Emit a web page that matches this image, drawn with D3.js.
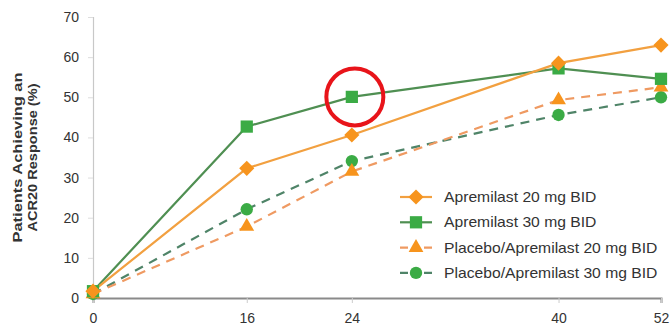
<!DOCTYPE html>
<html>
<head>
<meta charset="utf-8">
<script src="https://cdn.jsdelivr.net/npm/d3@7"></script>
<style>
  html, body { margin: 0; padding: 0; background: #fff; }
  svg { display: block; font-family: "Liberation Sans", Arial, sans-serif; }
</style>
</head>
<body>
<svg id="chart" width="672" height="332"></svg>
<script>
// Study weeks and ACR20 response rates (%)
const weeks = [0, 16, 24, 40, 52];
const apremilast20 = [1.7, 32.3, 40.6, 58.5, 63.0];
const apremilast30 = [1.7, 42.7, 50.1, 57.2, 54.6];
const placeboApremilast20 = [1.0, 17.8, 31.5, 49.3, 52.5];
const placeboApremilast30 = [1.0, 22.1, 34.1, 45.6, 50.0];
const yTicks = [0, 10, 20, 30, 40, 50, 60, 70];
const seriesNames = [
  "Apremilast 20 mg BID",
  "Apremilast 30 mg BID",
  "Placebo/Apremilast 20 mg BID",
  "Placebo/Apremilast 30 mg BID"
];
const highlight = { week: 24, value: 50.1 };

const ORANGE = "#f7941d", GREEN = "#3bab45";
const series = [
  { name: seriesNames[0], values: apremilast20, color: ORANGE, line: "#f2a040", dash: null, symbol: "diamond" },
  { name: seriesNames[1], values: apremilast30, color: GREEN, line: "#4f8f52", dash: null, symbol: "square" },
  { name: seriesNames[2], values: placeboApremilast20, color: ORANGE, line: "#ef9a62", dash: "9,7", symbol: "triangle" },
  { name: seriesNames[3], values: placeboApremilast30, color: GREEN, line: "#4f8468", dash: "9,7", symbol: "circle" }
];

const svg = d3.select("#chart");
const margin = { left: 93, right: 11, top: 17, bottom: 34 };
const W = 672, H = 332;
const plotW = W - margin.left - margin.right;

// The week axis is stretched unevenly between visits
const x = d3.scaleLinear()
  .domain(weeks)
  .range([0, 0.2707, 0.4557, 0.8196, 1].map(f => margin.left + f * plotW));
const y = d3.scaleLinear().domain([0, 70]).range([H - margin.bottom, margin.top]);

// Y axis
const yAxis = svg.append("g").attr("transform", `translate(${margin.left},0)`)
  .call(d3.axisLeft(y).tickValues(yTicks).tickSize(5).tickPadding(9));
yAxis.select(".domain").attr("stroke", "#c8c8c8").attr("stroke-width", 1.2);
yAxis.selectAll(".tick line").attr("stroke", "#dddddd");
yAxis.selectAll(".tick text").attr("font-size", 14).attr("fill", "#333");

// X axis
const xAxis = svg.append("g").attr("transform", `translate(0,${y(0)})`)
  .call(d3.axisBottom(x).tickValues(weeks).tickSize(5).tickPadding(10).tickFormat(d3.format("d")));
xAxis.select(".domain").attr("stroke", "#8a8a8a").attr("stroke-width", 2);
xAxis.selectAll(".tick line").attr("stroke", "#cccccc");
xAxis.selectAll(".tick text").attr("font-size", 14).attr("fill", "#333");

// Y axis title
const titleLines = ["Patients Achieving an", "ACR20 Response (%)"];
const titleLen = [170, 148];
svg.append("text")
  .attr("transform", `translate(25,${(y(0) + y(70)) / 2}) rotate(-90)`)
  .attr("text-anchor", "middle")
  .attr("font-size", 13).attr("font-weight", "bold").attr("fill", "#333")
  .selectAll("tspan").data(titleLines).join("tspan")
  .attr("x", 0).attr("y", (d, i) => i === 0 ? -3 : 12)
  .attr("textLength", (d, i) => titleLen[i])
  .attr("lengthAdjust", "spacingAndGlyphs")
  .text(d => d);

const symbolType = { diamond: d3.symbolSquare, square: d3.symbolSquare, triangle: d3.symbolTriangle, circle: d3.symbolCircle };
const symbolSize = { diamond: 115, square: 150, triangle: 95, circle: 120 };
const symbolRot = { diamond: 45, square: 0, triangle: 0, circle: 0 };

const line = d3.line().x((d, i) => x(weeks[i])).y(d => y(d));

// Draw order: placebo groups underneath, active groups on top
const order = [3, 2, 1, 0];
order.forEach(k => {
  const s = series[k];
  svg.append("path").datum(s.values)
    .attr("d", line).attr("fill", "none")
    .attr("stroke", s.line).attr("stroke-width", 2.2)
    .attr("stroke-dasharray", s.dash);
});
order.forEach(k => {
  const s = series[k];
  svg.append("g").selectAll("path").data(s.values).join("path")
    .attr("transform", (d, i) => `translate(${x(weeks[i])},${y(d)}) rotate(${symbolRot[s.symbol]})`)
    .attr("d", d3.symbol().type(symbolType[s.symbol]).size(symbolSize[s.symbol]))
    .attr("fill", s.color);
});

// Highlight ring around the 30 mg week-24 response
svg.append("circle")
  .attr("cx", x(highlight.week) + 3).attr("cy", y(highlight.value))
  .attr("r", 28.5).attr("fill", "none")
  .attr("stroke", "#e8141a").attr("stroke-width", 4);

// Legend
const legend = svg.append("g").attr("transform", "translate(400,197)");
series.forEach((s, i) => {
  const g = legend.append("g").attr("transform", `translate(0,${i * 25.3})`);
  g.append("line").attr("x1", 0).attr("x2", 32).attr("y1", 0).attr("y2", 0)
    .attr("stroke", s.line).attr("stroke-width", 2.2)
    .attr("stroke-dasharray", s.dash ? "8,4" : null);
  g.append("path").attr("transform", `translate(16,0) rotate(${symbolRot[s.symbol]})`)
    .attr("d", d3.symbol().type(symbolType[s.symbol]).size(symbolSize[s.symbol]))
    .attr("fill", s.color);
  g.append("text").attr("x", 44).attr("y", 0).attr("dy", "0.35em")
    .attr("font-size", 14).attr("fill", "#333")
    .attr("transform", "translate(44,0) scale(1.12,1) translate(-44,0)")
    .text(s.name);
});
</script>
</body>
</html>
